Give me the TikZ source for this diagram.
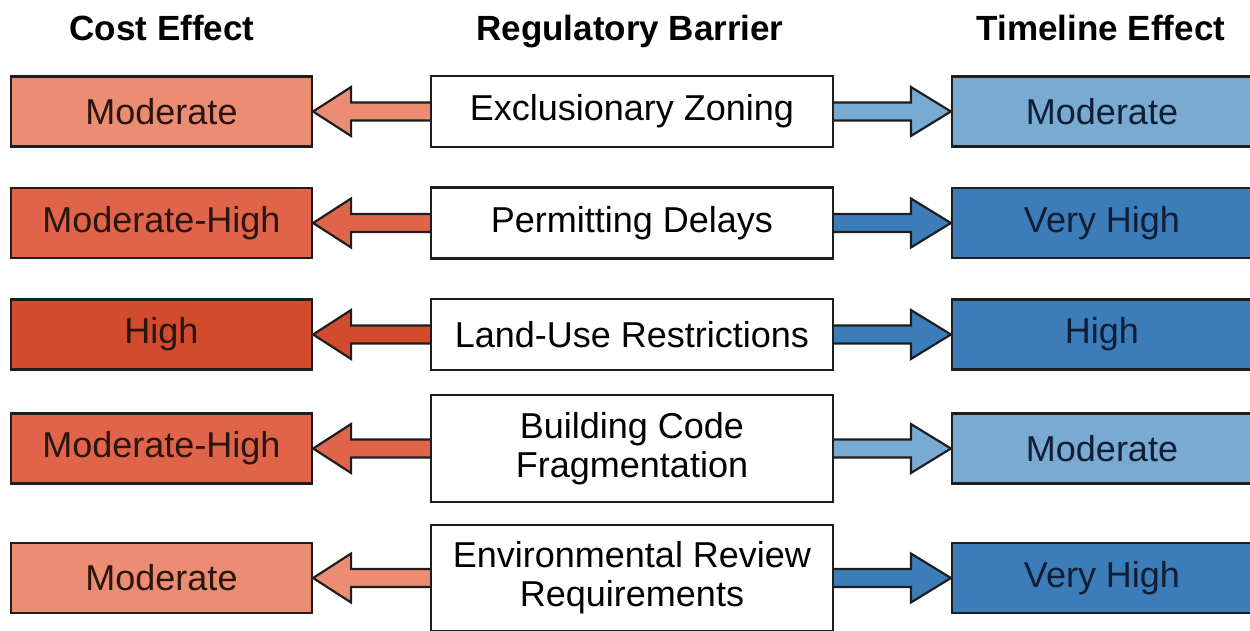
\documentclass[tikz,border=0pt]{standalone}
\usepackage{fontspec}
\setmainfont{Liberation Sans}
\usetikzlibrary{calc}

\definecolor{costmod}{HTML}{EB8C73}
\definecolor{costmodhigh}{HTML}{E0644A}
\definecolor{costhigh}{HTML}{D24B2D}
\definecolor{timemod}{HTML}{78AAD2}
\definecolor{timehigh}{HTML}{3C7DB9}
\definecolor{edge}{HTML}{1E1E1E}
\definecolor{costtext}{HTML}{2A1510}
\definecolor{timetext}{HTML}{0F1E36}

\tikzset{
  header/.style={font=\bfseries\fontsize{35}{35}\selectfont, anchor=base},
  effectbox/.style={draw=edge, line width=2.2pt, minimum width=301pt, minimum height=70pt,
    inner sep=0pt, font=\fontsize{36}{36}\selectfont},
  costbox/.style={effectbox, text=costtext},
  timebox/.style={effectbox, text=timetext},
  barrierbox/.style={draw=edge, line width=2.2pt, fill=white, minimum width=402pt,
    minimum height=71pt, inner sep=0pt, align=center, font=\fontsize{36}{39}\selectfont},
  blockarrow/.style={draw=edge, line width=2.2pt, line join=miter},
}

% block arrow from the barrier's west side to the cost box's east side
\newcommand\costarrow[3]{%
  \path[blockarrow, fill=#3]
    ($(#1.west)+(0,-9)$) -- ($(#2.east)+(38,-9)$) -- ($(#2.east)+(38,-24.5)$)
    -- (#2.east) -- ($(#2.east)+(38,24.5)$) -- ($(#2.east)+(38,9)$)
    -- ($(#1.west)+(0,9)$);}
% block arrow from the barrier's east side to the timeline box's west side
\newcommand\timearrow[3]{%
  \path[blockarrow, fill=#3]
    ($(#1.east)+(0,-9)$) -- ($(#2.west)+(-40,-9)$) -- ($(#2.west)+(-40,-24.5)$)
    -- (#2.west) -- ($(#2.west)+(-40,24.5)$) -- ($(#2.west)+(-40,9)$)
    -- ($(#1.east)+(0,9)$);}

\begin{document}
\begin{tikzpicture}[x=1pt, y=-1pt]
  \useasboundingbox (0,0) rectangle (1250,630);

  % column headers
  \node[header] (hcost) at (162,40) {Cost Effect};
  \node[header] (hbar)  at (630,40) {Regulatory Barrier};
  \node[header] (htime) at (1101,40) {Timeline Effect};

  % barriers
  \node[barrierbox] (m1) at (632,111.5) {Exclusionary Zoning};
  \node[barrierbox] (m2) at (632,223) {Permitting Delays};
  \node[barrierbox] (m3) at (632,334.5) {Land-Use Restrictions};
  \node[barrierbox, minimum height=107pt] (m4) at (632,448.5) {Building Code\\Fragmentation};
  \node[barrierbox, minimum height=106pt] (m5) at (632,578) {Environmental Review\\Requirements};

  % cost effects
  \node[costbox, fill=costmod]     (c1) at (161.5,111.5) {Moderate};
  \node[costbox, fill=costmodhigh] (c2) at (161.5,223) {Moderate-High};
  \node[costbox, fill=costhigh]    (c3) at (161.5,334.5) {High};
  \node[costbox, fill=costmodhigh] (c4) at (161.5,448.5) {Moderate-High};
  \node[costbox, fill=costmod]     (c5) at (161.5,578) {Moderate};

  % timeline effects
  \node[timebox, fill=timemod,  minimum width=300pt] (t1) at (1102,111.5) {Moderate};
  \node[timebox, fill=timehigh, minimum width=300pt] (t2) at (1102,223) {Very High};
  \node[timebox, fill=timehigh, minimum width=300pt] (t3) at (1102,334.5) {High};
  \node[timebox, fill=timemod,  minimum width=300pt] (t4) at (1102,448.5) {Moderate};
  \node[timebox, fill=timehigh, minimum width=300pt] (t5) at (1102,578) {Very High};

  % connectors
  \costarrow{m1}{c1}{costmod}
  \costarrow{m2}{c2}{costmodhigh}
  \costarrow{m3}{c3}{costhigh}
  \costarrow{m4}{c4}{costmodhigh}
  \costarrow{m5}{c5}{costmod}

  \timearrow{m1}{t1}{timemod}
  \timearrow{m2}{t2}{timehigh}
  \timearrow{m3}{t3}{timehigh}
  \timearrow{m4}{t4}{timemod}
  \timearrow{m5}{t5}{timehigh}
\end{tikzpicture}
\end{document}
